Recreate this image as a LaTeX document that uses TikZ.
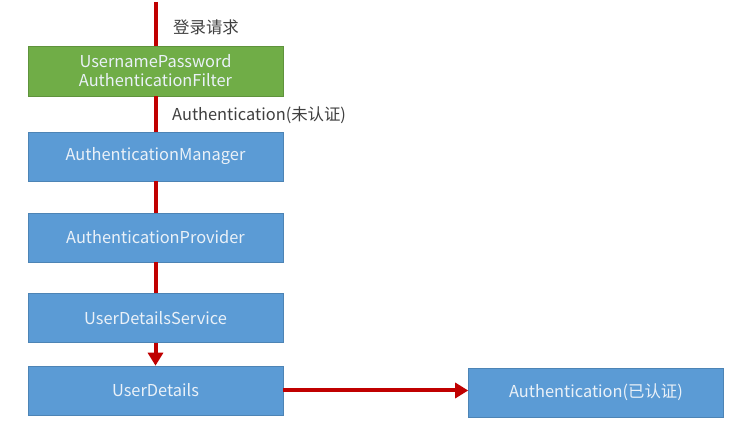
\documentclass[tikz,border=0pt]{standalone}
\usepackage{fontspec}
\setmainfont{Noto Sans CJK SC}
\usetikzlibrary{arrows.meta}
\definecolor{linered}{HTML}{C00000}
\definecolor{boxgreen}{HTML}{70AD47}
\definecolor{boxblue}{HTML}{5B9BD5}
\definecolor{boxtext}{HTML}{EAF1F8}
\definecolor{labeltext}{HTML}{404040}
\begin{document}
\begin{tikzpicture}[x=1pt,y=-1pt,
  box/.style={draw=#1!85!black, line width=0.6pt, fill=#1, minimum width=255pt, minimum height=49pt, inner sep=0pt, text=boxtext, font=\fontsize{16.4}{19}\selectfont, align=center},
  flow/.style={draw=linered, line width=4pt},
  flowarrow/.style={flow, -{Triangle[width=15pt,length=13pt]}},
  lbl/.style={text=labeltext, font=\fontsize{16.4}{19}\selectfont, anchor=west, inner sep=0pt}]
\useasboundingbox (0,0) rectangle (740,430);
\fill[white] (0,0) rectangle (740,430);
\node[box=boxgreen, minimum height=50pt] (filter) at (155.5,71) {UsernamePassword\\AuthenticationFilter};
\node[box=boxblue] (manager) at (155.5,156.5) {AuthenticationManager};
\node[box=boxblue] (provider) at (155.5,237.5) {AuthenticationProvider};
\node[box=boxblue] (uds) at (155.5,318) {UserDetailsService};
\node[box=boxblue] (ud) at (155.5,390.5) {UserDetails};
\node[box=boxblue] (auth) at (596,392.5) {Authentication(已认证)};
\coordinate (start) at (155.5,2);
\node[lbl] (l1) at (173,27) {登录请求};
\node[lbl] (l2) at (172,115) {Authentication(未认证)};
\draw[flow] (start) -- (filter.north);
\draw[flow] (filter.south) -- (manager.north);
\draw[flow] (manager.south) -- (provider.north);
\draw[flow] (provider.south) -- (uds.north);
\draw[flowarrow] (uds.south) -- (ud.north);
\draw[flowarrow] (ud.east) -- (ud.east -| auth.west);
\end{tikzpicture}
\end{document}
